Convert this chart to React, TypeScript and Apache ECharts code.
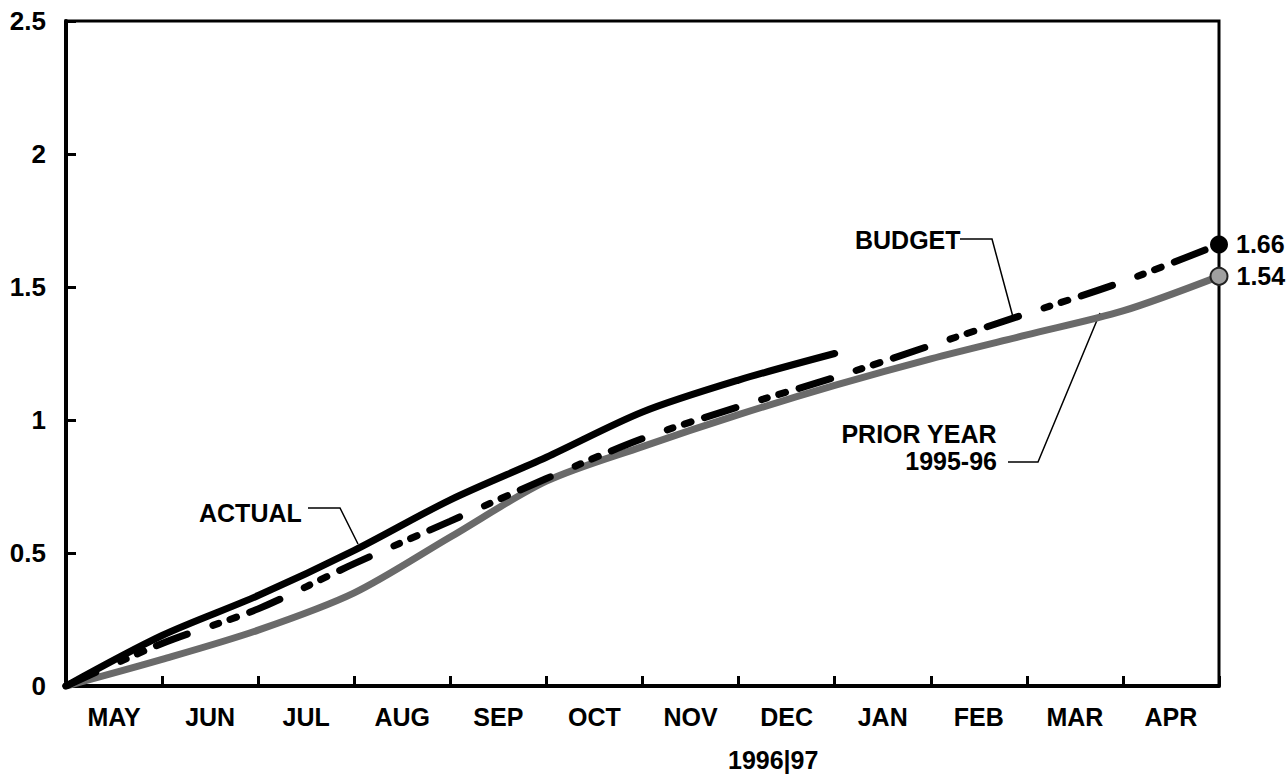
import React, { useEffect, useRef } from "react";
import * as echarts from "echarts";

const months = ["MAY", "JUN", "JUL", "AUG", "SEP", "OCT", "NOV", "DEC", "JAN", "FEB", "MAR", "APR"];
const yTicks = [0, 0.5, 1, 1.5, 2, 2.5];
const actual = [0, 0.19, 0.34, 0.51, 0.7, 0.86, 1.03, 1.15, 1.25];
const budget = [0, 0.16, 0.29, 0.46, 0.62, 0.78, 0.93, 1.05, 1.16, 1.28, 1.4, 1.52, 1.66];
const priorYear = [0, 0.1, 0.21, 0.35, 0.56, 0.77, 0.9, 1.02, 1.13, 1.23, 1.32, 1.41, 1.54];
const yearLabel = "1996|97";

const FONT = "'Liberation Sans Narrow', 'Arial Narrow', 'Liberation Sans', Arial, sans-serif";

function toPairs(arr: number[], lastSymbol?: any) {
  return arr.map((v, i) => {
    if (lastSymbol && i === arr.length - 1) {
      return { value: [i, v], ...lastSymbol };
    }
    return [i, v];
  });
}

export default function App() {
  const ref = useRef<HTMLDivElement>(null);
  useEffect(() => {
    if (!ref.current) return;
    const chart = echarts.init(ref.current, undefined, { renderer: "svg" });
    const labelStyle = { fontFamily: FONT, fontWeight: "bold" as const, fontSize: 25, color: "#000" };
    chart.setOption({
      animation: false,
      backgroundColor: "#fff",
      grid: {
        left: 66,
        right: 69,
        top: 21,
        bottom: 90,
        show: true,
        borderColor: "#000",
        borderWidth: 3,
        backgroundColor: "transparent",
      },
      xAxis: [
        {
          type: "value",
          min: 0,
          max: months.length,
          interval: 1,
          axisLine: { show: true, lineStyle: { color: "#000", width: 4 } },
          axisTick: { show: true, inside: true, length: 10, lineStyle: { color: "#000", width: 3 } },
          axisLabel: { show: false },
          splitLine: { show: false },
        },
        {
          type: "category",
          position: "bottom",
          data: months,
          boundaryGap: true,
          axisLine: { show: false },
          axisTick: { show: false },
          axisLabel: { ...labelStyle, margin: 18 },
          splitLine: { show: false },
        },
      ],
      yAxis: {
        type: "value",
        min: yTicks[0],
        max: yTicks[yTicks.length - 1],
        interval: 0.5,
        axisLine: { show: true, lineStyle: { color: "#000", width: 4 } },
        axisTick: { show: true, inside: true, length: 10, lineStyle: { color: "#000", width: 3 } },
        axisLabel: { ...labelStyle, fontSize: 26, margin: 20 },
        splitLine: { show: false },
      },
      series: [
        {
          name: "Prior Year 1995-96",
          type: "line",
          xAxisIndex: 0,
          smooth: 0.3,
          symbol: "none",
          showSymbol: true,
          z: 2,
          lineStyle: { color: "#6a6a6a", width: 7, cap: "round" },
          data: toPairs(priorYear, {
            symbol: "circle",
            symbolSize: 17,
            itemStyle: { color: "#a0a0a0", borderColor: "#222", borderWidth: 2 },
            label: { show: true, position: "right", distance: 8, ...labelStyle, formatter: (p: any) => p.value[1].toFixed(2) },
          }),
        },
        {
          name: "Budget",
          type: "line",
          xAxisIndex: 0,
          smooth: 0.3,
          symbol: "none",
          showSymbol: true,
          z: 3,
          lineStyle: { color: "#000", width: 7, cap: "round", type: [33, 27, 6, 12, 7, 14] },
          data: toPairs(budget, {
            symbol: "circle",
            symbolSize: 18,
            itemStyle: { color: "#000", borderColor: "#000", borderWidth: 0 },
            label: { show: true, position: "right", distance: 8, ...labelStyle, formatter: (p: any) => p.value[1].toFixed(2) },
          }),
        },
        {
          name: "Actual",
          type: "line",
          xAxisIndex: 0,
          smooth: 0.3,
          symbol: "none",
          z: 4,
          lineStyle: { color: "#000", width: 7, cap: "round" },
          data: toPairs(actual),
        },
      ],
      graphic: [
        { type: "text", left: 199, top: 500, style: { text: "ACTUAL", fill: "#000", font: `bold 25px ${FONT}` } },
        { type: "polyline", shape: { points: [[308, 508], [340, 508], [358, 544]] }, style: { stroke: "#000", lineWidth: 1.5, fill: "none" } },
        { type: "text", left: 855, top: 227, style: { text: "BUDGET", fill: "#000", font: `bold 25px ${FONT}` } },
        { type: "polyline", shape: { points: [[960, 239], [992, 239], [1013, 317]] }, style: { stroke: "#000", lineWidth: 1.5, fill: "none" } },
        { type: "text", right: 1288 - 997, top: 421, style: { text: "PRIOR YEAR", fill: "#000", font: `bold 25px ${FONT}` } },
        { type: "text", right: 1288 - 997, top: 448, style: { text: "1995-96", fill: "#000", font: `bold 25px ${FONT}` } },
        { type: "polyline", shape: { points: [[1008, 462], [1038, 462], [1100, 313]] }, style: { stroke: "#000", lineWidth: 1.5, fill: "none" } },
        { type: "text", left: 728, top: 747, style: { text: yearLabel, fill: "#000", font: `bold 25px ${FONT}` } },
      ],
    });
    return () => chart.dispose();
  }, []);
  return <div ref={ref} style={{ position: "fixed", left: 0, top: 0, width: 1288, height: 776, background: "#fff" }} />;
}
